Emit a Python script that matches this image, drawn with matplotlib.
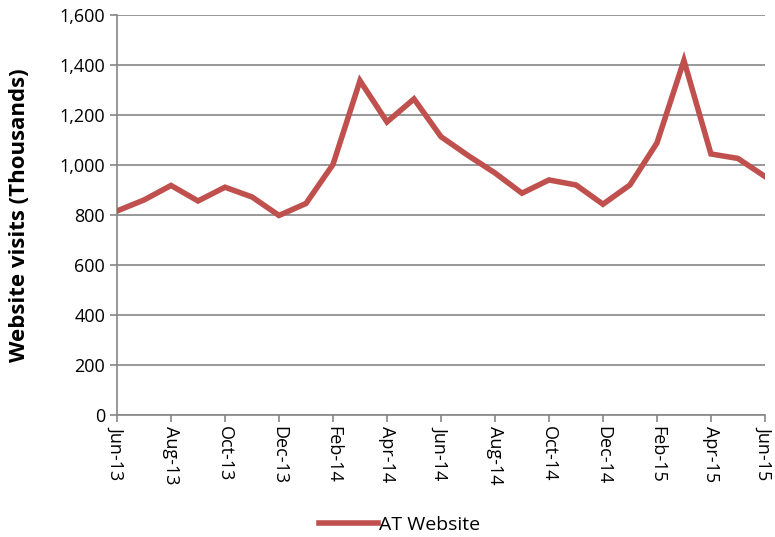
import matplotlib.pyplot as plt

plt.rcParams['font.family'] = ['Open Sans', 'DejaVu Sans']

months = ["Jun-13", "Jul-13", "Aug-13", "Sep-13", "Oct-13", "Nov-13", "Dec-13",
          "Jan-14", "Feb-14", "Mar-14", "Apr-14", "May-14", "Jun-14", "Jul-14",
          "Aug-14", "Sep-14", "Oct-14", "Nov-14", "Dec-14", "Jan-15", "Feb-15",
          "Mar-15", "Apr-15", "May-15", "Jun-15"]
visits = [816, 860, 918, 856, 911, 872, 798,
          846, 1002, 1337, 1172, 1264, 1113, 1038,
          968, 887, 940, 920, 843, 920, 1088,
          1418, 1044, 1026, 954]
y_ticks = [0, 200, 400, 600, 800, 1000, 1200, 1400, 1600]

grey = "#868686"

fig = plt.figure(figsize=(7.75, 5.37), dpi=100)
ax = fig.add_axes([0.151, 0.2272, 0.836, 0.745])

x = list(range(len(months)))
ax.plot(x, visits, color="#C0504D", lw=4, solid_joinstyle="miter", label="AT Website", zorder=3)

ax.set_xlim(0, len(months) - 1)
ax.set_ylim(0, 1600)
ax.set_yticks(y_ticks)
ax.set_yticklabels([f"{v:,}" for v in y_ticks])
ax.set_xticks(x[::2])
ax.set_xticklabels(months[::2], rotation=270, va="top", ha="center")

ax.grid(axis="y", color=grey, lw=1.2)
ax.set_axisbelow(True)
for side in ["top", "right"]:
    ax.spines[side].set_visible(False)
for side in ["left", "bottom"]:
    ax.spines[side].set_color(grey)
    ax.spines[side].set_linewidth(1.2)
ax.tick_params(axis="both", colors=grey, length=5, width=1.2, labelcolor="black", labelsize=13)
ax.tick_params(axis="x", pad=3)

ax.set_ylabel("Website visits (Thousands)", fontsize=16, fontweight="bold", labelpad=20)
ax.yaxis.set_label_coords(-0.135, 0.5)

fig.legend(loc="center", bbox_to_anchor=(0.516, 0.023), frameon=False, fontsize=14,
           handlelength=3.0, handletextpad=0.1)

fig.savefig("out.png", dpi=100)
